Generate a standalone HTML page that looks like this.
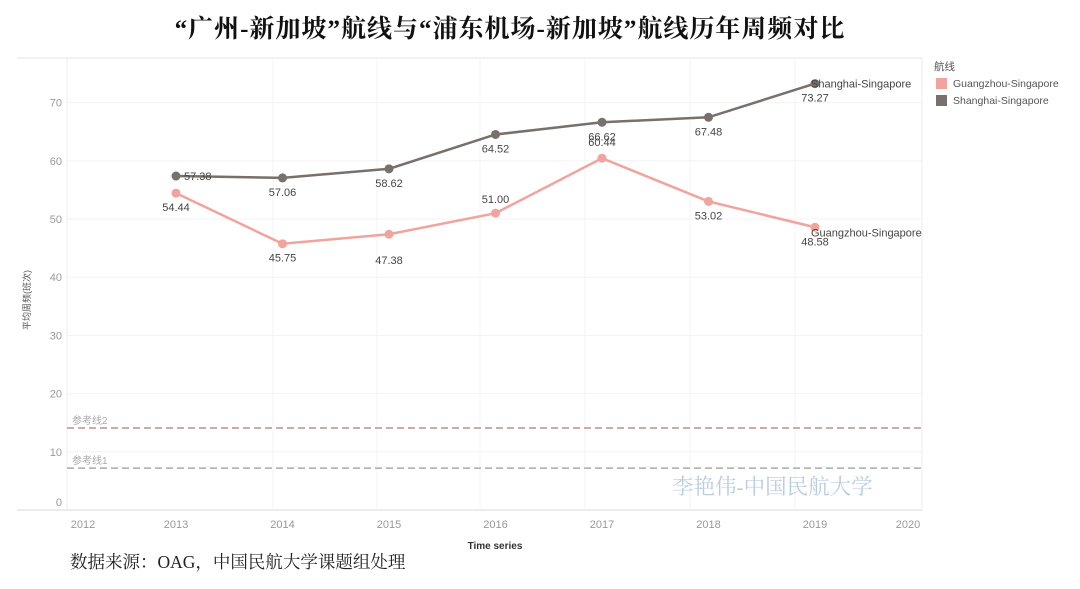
<!DOCTYPE html>
<html><head><meta charset="utf-8"><style>
body{margin:0;background:#fff;width:1080px;height:589px;overflow:hidden}
svg{display:block}
</style></head><body>
<svg width="1080" height="589" xmlns="http://www.w3.org/2000/svg">
<text x="510" y="37" text-anchor="middle" font-family="'Liberation Serif','Noto Serif CJK SC',serif" font-size="25" font-weight="bold" letter-spacing="1" fill="#111">“广州-新加坡”航线与“浦东机场-新加坡”航线历年周频对比</text>
<g id="plot"></g>
<text x="30" y="300" transform="rotate(-90 30 300)" text-anchor="middle" font-family="'Liberation Sans','Noto Sans CJK SC',sans-serif" font-size="9" fill="#555">平均周频(班次)</text>
<text x="495" y="549" text-anchor="middle" font-family="'Liberation Sans',sans-serif" font-size="10" font-weight="bold" fill="#333">Time series</text>
<text x="672" y="494" font-family="'Liberation Serif','Noto Serif CJK SC',serif" font-size="21.5" fill="#b8cde0">李艳伟-中国民航大学</text>
<text x="70" y="568" font-family="'Liberation Serif','Noto Serif CJK SC',serif" font-size="17.5" fill="#222">数据来源：OAG，中国民航大学课题组处理</text>
<g font-family="'Liberation Sans','Noto Sans CJK SC',sans-serif" font-size="10.5" fill="#555">
<text x="934" y="70">航线</text>
<rect x="936" y="78" width="11" height="11" fill="#f1a39d"/>
<text x="953" y="87">Guangzhou-Singapore</text>
<rect x="936" y="95" width="11" height="11" fill="#77706b"/>
<text x="953" y="104">Shanghai-Singapore</text>
</g>
</svg>
<script>
const years=[2013,2014,2015,2016,2017,2018,2019];
const guangzhou=[54.44,45.75,47.38,51.00,60.44,53.02,48.58];
const shanghai=[57.38,57.06,58.62,64.52,66.62,67.48,73.27];
const yTicks=[0,10,20,30,40,50,60,70];
const xTicks=[2012,2013,2014,2015,2016,2017,2018,2019,2020];
const refLines=[{label:'参考线1',value:7.2,color:'#aaaaaa'},{label:'参考线2',value:14.1,color:'#b89488'}];
const NS='http://www.w3.org/2000/svg';
const L=67,R=922,T=58,B=510;
const x=v=>176+(v-2013)*106.5;
const y=v=>510-v*5.82;
const g=document.getElementById('plot');
function mk(tag,at,txt){const e=document.createElementNS(NS,tag);for(const k in at)e.setAttribute(k,at[k]);if(txt!=null)e.textContent=txt;g.appendChild(e);return e;}
let e=mk('rect',{x:L,y:T,width:R-L,height:B-T,fill:'none',stroke:'#ececec'});


e=mk('line',{x1:17,x2:R,y1:T,y2:T,stroke:'#e6e6e6'});


e=mk('line',{x1:17,x2:R,y1:B,y2:B,stroke:'#d8d8d8'});


[273,377,480,585,690,795].forEach(px=>{e=mk('line',{x1:px,x2:px,y1:T,y2:B,stroke:'#f3f3f3'});

});
yTicks.forEach(t=>{
 if(t>0){e=mk('line',{x1:L,x2:R,y1:y(t),y2:y(t),stroke:'#f3f3f3'});
 
 }
 e=mk('text',{x:62,y:(t===0?y(t)-4:y(t)+4),'text-anchor':'end','font-family':'Liberation Sans,sans-serif','font-size':11,fill:'#999'},t);
 
 
});
xTicks.forEach(t=>{
 let px=Math.min(Math.max(x(t),83),908);
 e=mk('text',{x:px,y:528,'text-anchor':'middle','font-family':'Liberation Sans,sans-serif','font-size':11,fill:'#999'},t);
 
 
});
refLines.forEach(r=>{
 e=mk('line',{x1:L,x2:R,y1:y(r.value),y2:y(r.value),stroke:r.color,'stroke-width':1.5,'stroke-dasharray':'7 4'});
 
 
 e=mk('text',{x:72,y:y(r.value)-4,'font-family':'Liberation Sans,Noto Sans CJK SC,sans-serif','font-size':10,fill:'#aaa'},r.label);
 
 
});
function series(vals,color,name,offs,endLabel,endDy){
 e=mk('polyline',{points:vals.map((v,i)=>x(years[i])+','+y(v)).join(' '),fill:'none',stroke:color,'stroke-width':2.5});
 
 
 vals.forEach((v,i)=>{
  e=mk('circle',{cx:x(years[i]),cy:y(v),r:4.5,fill:color});
  
  
  const o=offs[i];
  e=mk('text',{x:x(years[i])+o[0],y:y(v)+o[1],'text-anchor':o[0]?'start':'middle','font-family':'Liberation Sans,sans-serif','font-size':11,fill:'#444'},v.toFixed(2));
  
  
 });
 const n=vals.length-1;
 e=mk('text',{x:x(years[n])-4,y:y(vals[n])+endDy,'font-family':'Liberation Sans,sans-serif','font-size':11,fill:'#444'},endLabel);
 
 
}
series(guangzhou,'#f1a39d','guangzhou',[[0,18],[0,18],[0,30],[0,-10],[0,-12],[0,18],[0,18]],'Guangzhou-Singapore',9);
series(shanghai,'#77706b','shanghai',[[8,4],[0,18],[0,18],[0,18],[0,18],[0,18],[0,18]],'Shanghai-Singapore',4);
</script>
</body></html>
